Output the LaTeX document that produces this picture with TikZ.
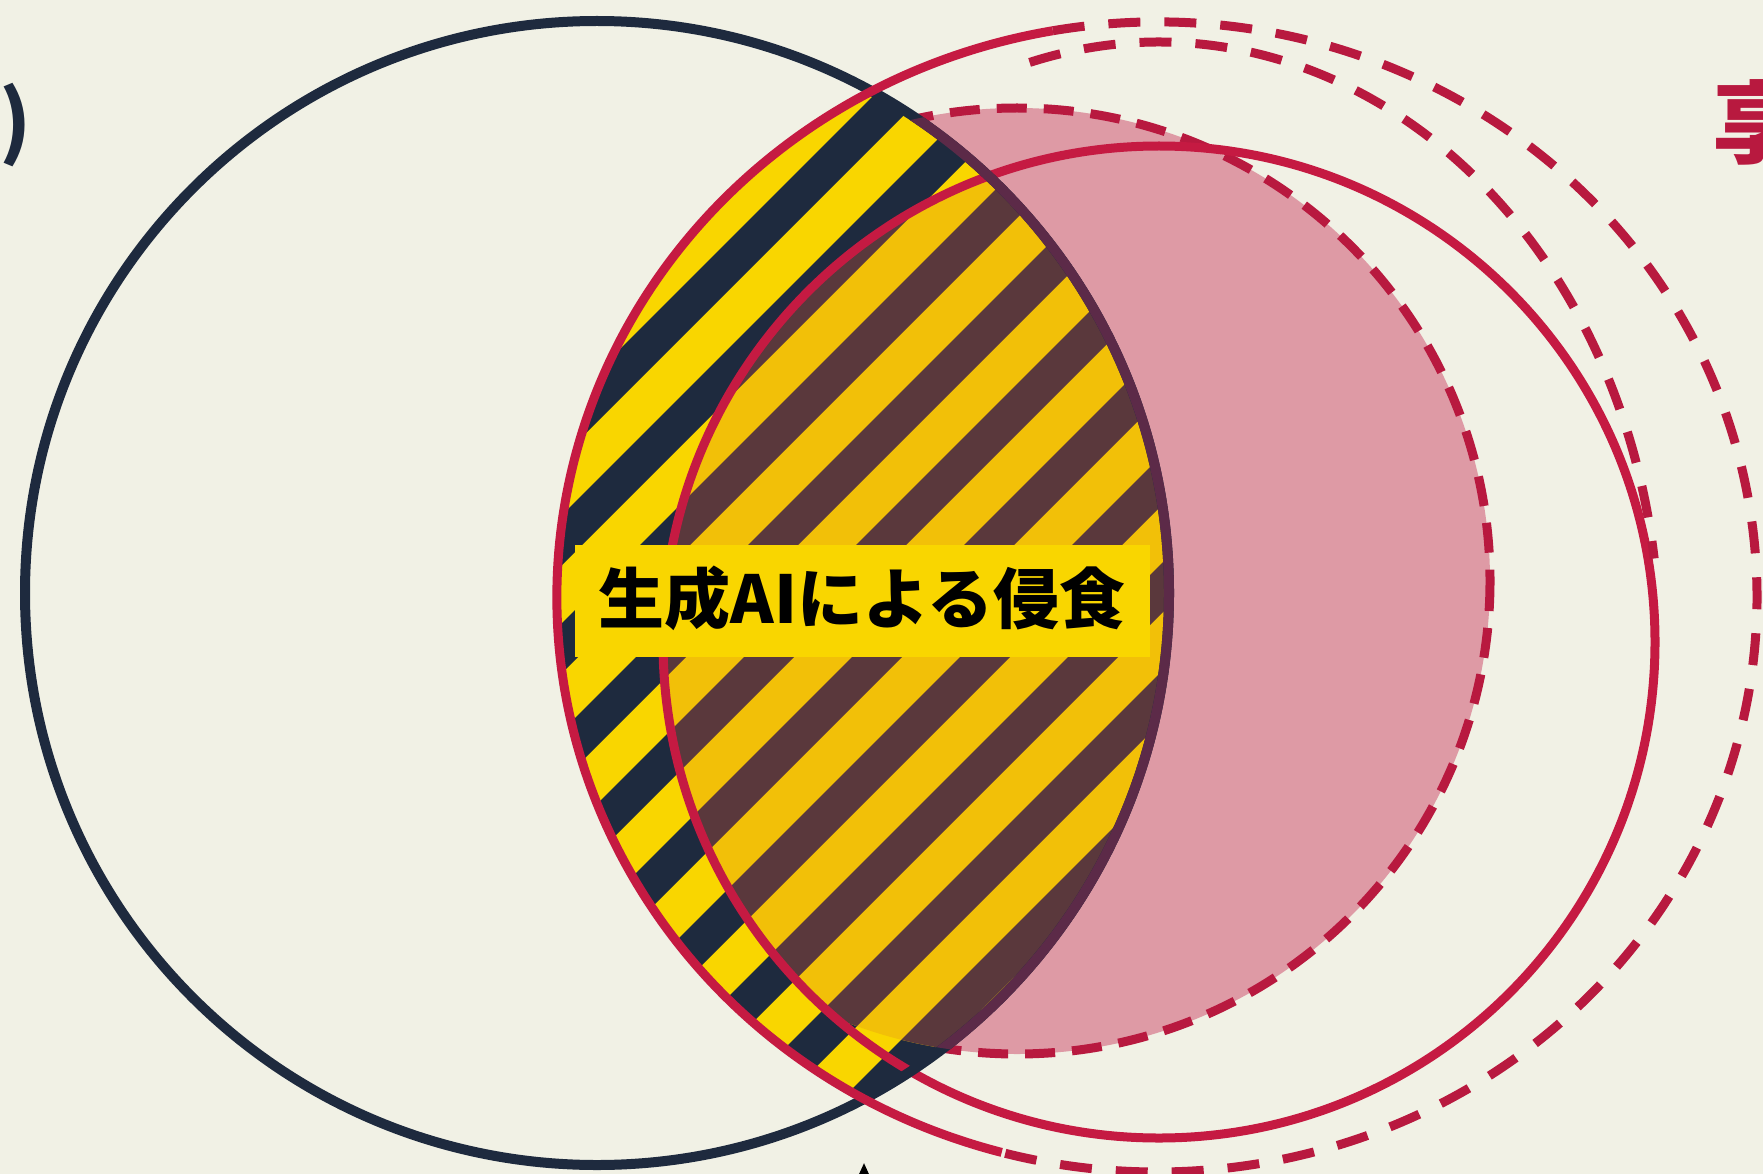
\documentclass[tikz,border=0pt]{standalone}
\usepackage{fontspec}
\newfontfamily\jpfont{Noto Sans CJK JP}
\usetikzlibrary{arrows.meta,calc}
\definecolor{bg}{HTML}{F1F1E5}
\definecolor{navy}{HTML}{1E2A3E}
\definecolor{crim}{HTML}{C51A42}
\definecolor{crimd}{HTML}{B8193F}
\definecolor{pinkf}{HTML}{DE9AA5}
\definecolor{ylw}{HTML}{F9D600}
\definecolor{ylw2}{HTML}{F2C008}
\definecolor{brn}{HTML}{5A383C}
\definecolor{purp}{HTML}{5C2A48}
\begin{document}
\begin{tikzpicture}[x=1pt,y=-1pt,
  navyline/.style={draw=navy, line width=10pt},
  redline/.style={draw=crim, line width=9pt},
  reddash/.style={draw=crimd, line width=9pt, dash pattern=on 32pt off 24pt},
  pinkdash/.style={draw=crimd, line width=9pt, dash pattern=on 30pt off 17pt},
  lbl/.style={inner sep=0pt, font=\jpfont\bfseries\fontsize{66}{70}\selectfont}
]
\useasboundingbox (0,0) rectangle (1763,1174);
\clip (0,0) rectangle (1763,1174);
\fill[bg] (0,0) rectangle (1763,1174);

\coordinate (nc) at (597,593);
\coordinate (sc) at (1159,642);
\coordinate (lc) at (1157,597);
\coordinate (dc) at (1017,581);

% pink region with dashed border (kept inside the outer red outline)
\begin{scope}
  \clip (lc) ellipse[x radius=594, y radius=569];
  \fill[pinkf] (dc) circle[radius=473];
  \draw[pinkdash] (dc) circle[radius=473];
\end{scope}

% hatched lens
\begin{scope}
  \clip (nc) circle[radius=572];
  \clip (lc) ellipse[x radius=600, y radius=575];
  \fill[ylw] (0,0) rectangle (1763,1174);
  \foreach \c in {429,537,...,2400} {
    \fill[navy] (\c,0) -- (\c+50,0) -- (\c+50-1174,1174) -- (\c-1174,1174) -- cycle;
  }
  \begin{scope}
    \clip (sc) circle[radius=496];
    \clip (dc) circle[radius=473];
    \fill[ylw2] (0,0) rectangle (1763,1174);
    \foreach \c in {429,537,...,2400} {
      \fill[brn] (\c,0) -- (\c+50,0) -- (\c+50-1174,1174) -- (\c-1174,1174) -- cycle;
    }
  \end{scope}
\end{scope}

% solid inner red circle
\draw[redline] (sc) circle[radius=496];

% label band
\begin{scope}
  \clip (nc) circle[radius=572];
  \clip (lc) ellipse[x radius=600, y radius=575];
  \fill[ylw] (575,545) rectangle (1150,657);
\end{scope}
\node[lbl] (label) at (862,598) {生成AIによる侵食};

% navy circle
\draw[navyline] (nc) circle[radius=572];
\begin{scope}
  \clip (dc) circle[radius=473];
  \clip (lc) ellipse[x radius=600, y radius=575];
  \draw[draw=purp, line width=10pt] (nc) circle[radius=572];
\end{scope}

% outer red: solid on the left, dashed on the right
\draw[redline] ($(lc)+(105:600 and 575)$) arc[start angle=105, end angle=260, x radius=600, y radius=575];
\draw[reddash] ($(lc)+(260:600 and 575)$) arc[start angle=260, end angle=465, x radius=600, y radius=575];

% middle dashed arc
\draw[reddash] ($(sc)+(255:500 and 600)$) arc[start angle=255, end angle=352, x radius=500, y radius=600];

% cut texts at the edges
\node[inner sep=0pt, text=navy, font=\jpfont\bfseries\fontsize{80}{80}\selectfont] (paren) at (15,125) {)};
\node[inner sep=0pt, anchor=west, text=crimd, font=\jpfont\bfseries\fontsize{90}{90}\selectfont] (kyo) at (1712,122) {享};

% arrow tip at the bottom
\coordinate (arrfrom) at (864,1270);
\coordinate (arrto) at (864,1163);
\draw[draw=black, line width=4pt, -{Triangle[length=30pt,width=26pt]}] (arrfrom) -- (arrto);
\end{tikzpicture}
\end{document}
